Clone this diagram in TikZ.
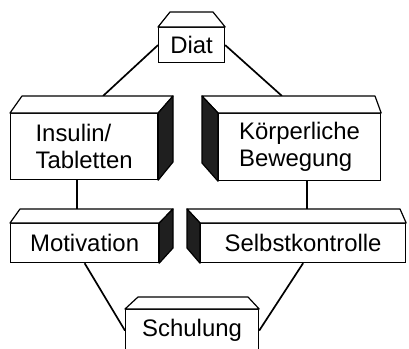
\documentclass[tikz,border=0pt]{standalone}
\usepackage{fontspec}
\setmainfont{Liberation Sans}
\usetikzlibrary{positioning}
\usetikzlibrary{calc}
\tikzset{
  front/.style={draw,line width=1.2pt,fill=white,rectangle,anchor=north west,inner sep=0pt,align=left,font=\fontsize{24}{27}\selectfont},
  topface/.style={draw,line width=1.2pt,fill=white,line join=round},
  sideface/.style={draw,line width=1.2pt,fill=black!88,line join=round},
  link/.style={line width=1.7pt}
}

\begin{document}
\begin{tikzpicture}[x=1bp,y=-1bp]
\useasboundingbox (0,0) rectangle (409,349);

% front faces
\node[front,minimum width=66bp,minimum height=35bp] (diat) at (158,27) {Diat};
\node[front,minimum width=147bp,minimum height=66bp] (insulin) at (10,113) {Insulin/\\Tabletten};
\node[front,minimum width=162bp,minimum height=67bp] (bewegung) at (218,113) {K\"orperliche\\Bewegung};
\node[front,minimum width=148bp,minimum height=39bp] (motivation) at (10,223) {Motivation};
\node[front,minimum width=205bp,minimum height=39bp] (kontrolle) at (200,223) {Selbstkontrolle};
\node[front,minimum width=133bp,minimum height=42bp] (schulung) at (125,309) {Schulung};

% points on the back edges
\coordinate (insulin-top) at (103,96);
\coordinate (bewegung-top) at (282,96);
\coordinate (motivation-top) at (77,209);
\coordinate (kontrolle-top) at (307,209);

% connectors
\draw[link] (diat.west) -- (insulin-top);
\draw[link] (diat.east) -- (bewegung-top);
\draw[link] (motivation-top |- insulin.south) -- (motivation-top);
\draw[link] (kontrolle-top |- bewegung.south) -- (kontrolle-top);
\draw[link] (motivation.south) -- (schulung.west);
\draw[link] (kontrolle.south) -- (schulung.east);

% tops and sides
\draw[topface] (diat.north west) -- (170,12) -- (213,12) -- (diat.north east) -- cycle;

\draw[topface] (insulin.north west) -- (22,96) -- (173,96) -- (insulin.north east) -- cycle;
\draw[sideface] (insulin.north east) -- (173,96) -- (173,162) -- (insulin.south east) -- cycle;

\draw[topface] (bewegung.north west) -- (202,96) -- (375,96) -- (bewegung.north east) -- cycle;
\draw[sideface] (bewegung.north west) -- (202,96) -- (202,163) -- (bewegung.south west) -- cycle;

\draw[topface] (motivation.north west) -- (20,209) -- (173,209) -- (motivation.north east) -- cycle;
\draw[sideface] (motivation.north east) -- (173,209) -- (173,248) -- (motivation.south east) -- cycle;

\draw[topface] (kontrolle.north west) -- (187,209) -- (400,209) -- (kontrolle.north east) -- cycle;
\draw[sideface] (kontrolle.north west) -- (187,209) -- (187,248) -- (kontrolle.south west) -- cycle;

\draw[topface] (schulung.north west) -- (138,297) -- (248,297) -- (schulung.north east) -- cycle;

\end{tikzpicture}
\end{document}
